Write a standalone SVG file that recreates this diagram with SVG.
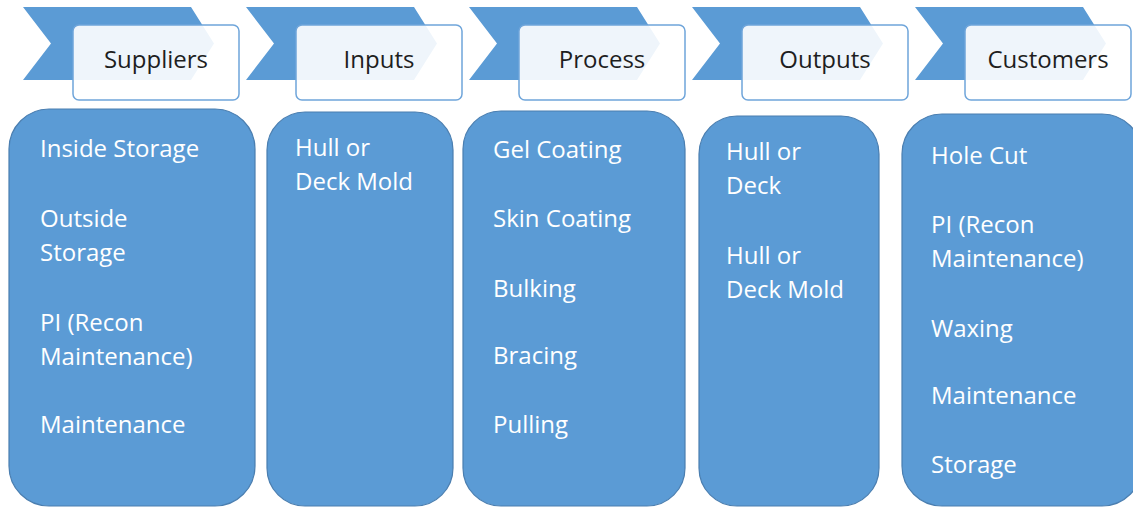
<svg xmlns="http://www.w3.org/2000/svg" width="1133" height="508" viewBox="0 0 1133 508">
<defs>
<style>
.chev{fill:#5B9BD5;}
.lab{fill:#FFFFFF;fill-opacity:0.9;stroke:#6FA5DA;stroke-width:1.5;}
.body{fill:#5B9BD5;stroke:#4A7EB0;stroke-width:1.2;}
.ht{font-family:"Open Sans","Liberation Sans",sans-serif;font-size:24px;fill:#1E1E1E;text-anchor:middle;}
.bt{font-family:"Open Sans","Liberation Sans",sans-serif;font-size:24px;fill:#FFFFFF;}
</style>
<path id="chevShape" d="M0,7 H168 L191,43.5 L168,80 H0 L28,43.5 Z"/>
</defs>
<rect width="1133" height="508" fill="#FFFFFF"/>
<g id="connectors"></g>
<g id="suppliers">
<use href="#chevShape" class="chev" x="23"/>
<rect class="lab" x="73" y="25" width="166" height="75" rx="6"/>
<text class="ht" x="156" y="68">Suppliers</text>
<rect class="body" x="9" y="109" width="246" height="397" rx="40"/>
<text class="bt" x="40" y="157">Inside Storage</text>
<text class="bt" x="40" y="227">Outside</text>
<text class="bt" x="40" y="261">Storage</text>
<text class="bt" x="40" y="331">PI (Recon</text>
<text class="bt" x="40" y="365">Maintenance)</text>
<text class="bt" x="40" y="433">Maintenance</text>
</g>
<g id="inputs">
<use href="#chevShape" class="chev" x="246"/>
<rect class="lab" x="296" y="25" width="166" height="75" rx="6"/>
<text class="ht" x="379" y="68">Inputs</text>
<rect class="body" x="267" y="112" width="186" height="394" rx="38"/>
<text class="bt" x="295" y="156">Hull or</text>
<text class="bt" x="295" y="190">Deck Mold</text>
</g>
<g id="process">
<use href="#chevShape" class="chev" x="469"/>
<rect class="lab" x="519" y="25" width="166" height="75" rx="6"/>
<text class="ht" x="602" y="68">Process</text>
<rect class="body" x="463" y="111" width="222" height="395" rx="38"/>
<text class="bt" x="493" y="158">Gel Coating</text>
<text class="bt" x="493" y="227">Skin Coating</text>
<text class="bt" x="493" y="297">Bulking</text>
<text class="bt" x="493" y="364">Bracing</text>
<text class="bt" x="493" y="433">Pulling</text>
</g>
<g id="outputs">
<use href="#chevShape" class="chev" x="692"/>
<rect class="lab" x="742" y="25" width="166" height="75" rx="6"/>
<text class="ht" x="825" y="68">Outputs</text>
<rect class="body" x="699" y="116" width="180" height="390" rx="38"/>
<text class="bt" x="726" y="160">Hull or</text>
<text class="bt" x="726" y="194">Deck</text>
<text class="bt" x="726" y="264">Hull or</text>
<text class="bt" x="726" y="298">Deck Mold</text>
</g>
<g id="customers">
<use href="#chevShape" class="chev" x="915"/>
<rect class="lab" x="965" y="25" width="166" height="75" rx="6"/>
<text class="ht" x="1048" y="68">Customers</text>
<rect class="body" x="902" y="114" width="240" height="392" rx="40"/>
<text class="bt" x="931" y="164">Hole Cut</text>
<text class="bt" x="931" y="233">PI (Recon</text>
<text class="bt" x="931" y="267">Maintenance)</text>
<text class="bt" x="931" y="337">Waxing</text>
<text class="bt" x="931" y="404">Maintenance</text>
<text class="bt" x="931" y="473">Storage</text>
</g>
</svg>
